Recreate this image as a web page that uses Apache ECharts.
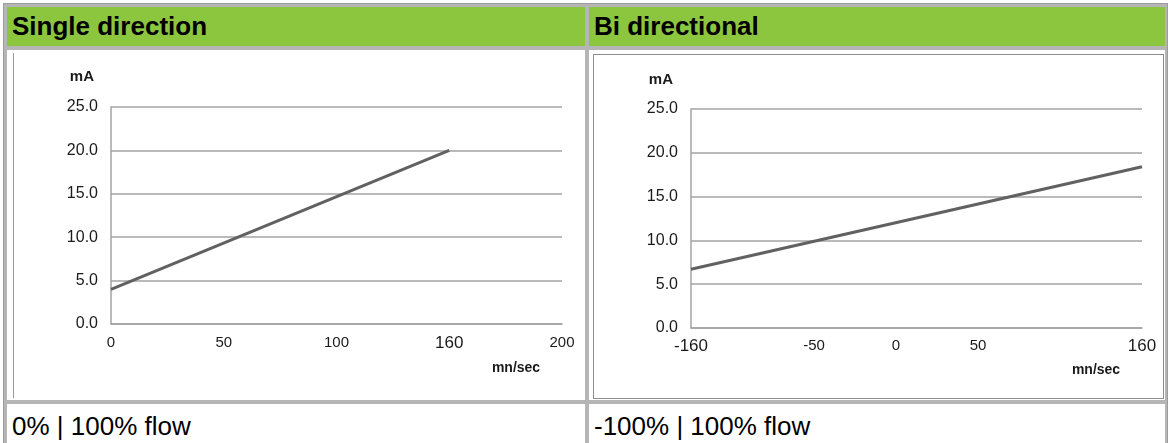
<!DOCTYPE html>
<html>
<head>
<meta charset="utf-8">
<script src="https://cdn.jsdelivr.net/npm/echarts@6/dist/echarts.min.js"></script>
<style>
  html, body { margin: 0; padding: 0; background: #fff; width: 1168px; height: 443px; overflow: hidden;
    font-family: "Liberation Sans", Arial, sans-serif; }
  .tbl { position: absolute; left: 3px; top: 3px; width: 1165px; height: 445px; box-sizing: border-box;
    background: #b5b5b5; border: 1px solid #9c9c9c; }
  .cell { position: absolute; background: #fff; box-sizing: border-box; }
  .hd { background: #8cc63f; font-weight: bold; font-size: 26px; line-height: 39px; padding-left: 5px; color: #000; }
  .ft { font-size: 26px; line-height: 40px; padding-left: 5px; padding-top: 2px; color: #000; }
  .frame-l { position: absolute; left: 13px; top: 53px; width: 1px; height: 345px; background: #9a9a9a; }
  .frame-r { position: absolute; left: 593px; top: 54px; width: 571px; height: 345px; box-sizing: border-box;
    border: 1px solid #8c8c8c; }
  #chart { position: absolute; left: 0; top: 0; width: 1168px; height: 443px; }
</style>
</head>
<body>
<div class="tbl"></div>
<div class="cell hd" style="left:7px;top:7px;width:578px;height:39px;">Single direction</div>
<div class="cell hd" style="left:589px;top:7px;width:576px;height:39px;">Bi directional</div>
<div class="cell" style="left:7px;top:50px;width:578px;height:350px;"></div>
<div class="cell" style="left:589px;top:50px;width:576px;height:350px;"></div>
<div class="cell ft" style="left:7px;top:404px;width:578px;height:40px;">0% | 100% flow</div>
<div class="cell ft" style="left:589px;top:404px;width:576px;height:40px;">-100% | 100% flow</div>
<div class="frame-l"></div>
<div class="frame-r"></div>
<div id="chart"></div>
<script>
// Flow (mn/sec) tick labels and current output (mA) for each mode
const singleTicks = ['0', '50', '100', '160', '200'];
const singleMA = [4, null, null, 20, null];

const biTicks = ['-160', '', '', '-50', '', '0', '', '50', '', '', '', '160'];
const biMA = [6.7, null, null, null, null, null, null, null, null, null, null, 18.4];

const yMin = 0, yMax = 25, yStep = 5;
const yUnit = 'mA';
const xUnit = 'mn/sec';

const FONT = '"Liberation Sans", Arial, sans-serif';
const GRID_GRAY = '#a3a3a3';
const TEXT = '#1a1a1a';

function makeY(gridIndex, nameGap, namePad) {
  return {
    type: 'value', gridIndex, min: yMin, max: yMax, interval: yStep,
    name: yUnit, nameLocation: 'end', nameGap,
    nameTextStyle: { fontFamily: FONT, fontWeight: 'bold', fontSize: 15, color: TEXT,
      align: 'right', verticalAlign: 'middle', padding: [0, namePad, 0, 0] },
    axisLine: { show: true, lineStyle: { color: GRID_GRAY, width: 1.5 } },
    axisTick: { show: false },
    axisLabel: { fontFamily: FONT, fontSize: 16, color: TEXT, margin: 13,
      formatter: v => v.toFixed(1) },
    splitLine: { show: true, lineStyle: { color: GRID_GRAY, width: 1.5 } }
  };
}

function makeX(gridIndex, ticks, labelMargin, nameGap) {
  return {
    type: 'category', gridIndex, data: ticks, boundaryGap: false,
    axisLine: { show: true, lineStyle: { color: GRID_GRAY, width: 1.5 } },
    axisTick: { show: false },
    splitLine: { show: false },
    axisLabel: {
      interval: 0, margin: labelMargin, fontFamily: FONT, fontSize: 15, color: TEXT,
      formatter: v => (v === '160' || v === '-160') ? '{big|' + v + '}' : v,
      rich: { big: { fontFamily: FONT, fontSize: 17, color: TEXT } }
    },
    name: xUnit, nameLocation: 'middle', nameGap,
    nameTextStyle: { fontFamily: FONT, fontWeight: 'bold', fontSize: 14, color: TEXT,
      verticalAlign: 'middle', padding: [0, 0, 0, 359] }
  };
}

function lineSeries(idx, data) {
  return {
    type: 'line', xAxisIndex: idx, yAxisIndex: idx, data,
    connectNulls: true, symbol: 'none', silent: true,
    lineStyle: { color: '#616161', width: 3 }
  };
}

const chart = echarts.init(document.getElementById('chart'), null, { renderer: 'canvas' });
chart.setOption({
  animation: false,
  backgroundColor: 'transparent',
  grid: [
    { left: 111, top: 107, width: 451, height: 217 },
    { left: 691, top: 109, width: 451, height: 219 }
  ],
  xAxis: [ makeX(0, singleTicks, 11, 44), makeX(1, biTicks, 10, 42) ],
  yAxis: [ makeY(0, 30, 17), makeY(1, 29, 18) ],
  series: [ lineSeries(0, singleMA), lineSeries(1, biMA) ]
});
</script>
</body>
</html>
